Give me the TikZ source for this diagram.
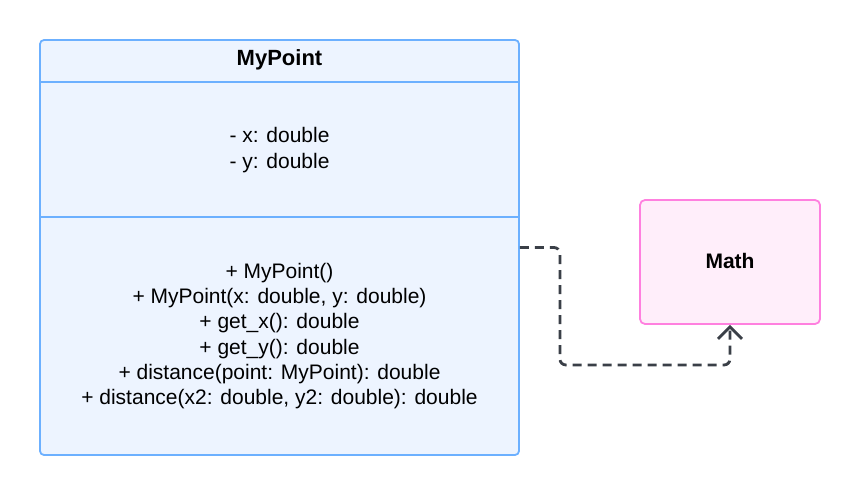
\documentclass[tikz,border=0pt]{standalone}
\usepackage{fontspec}
\setmainfont{Liberation Sans}
\usetikzlibrary{arrows.meta,calc}
\definecolor{clsfill}{HTML}{EDF4FF}
\definecolor{clsdraw}{HTML}{6CB0FF}
\definecolor{mathfill}{HTML}{FFEEFA}
\definecolor{mathdraw}{HTML}{FF80DF}
\definecolor{linecol}{HTML}{3A3F47}
\tikzset{
  classbox/.style={draw=clsdraw, fill=clsfill, line width=1.8pt, rounded corners=4pt, inner sep=0pt},
  mathbox/.style={draw=mathdraw, fill=mathfill, line width=1.8pt, rounded corners=5pt, inner sep=0pt, font=\fontsize{21}{24}\selectfont\bfseries},
  divider/.style={draw=clsdraw, line width=1.8pt},
  txt/.style={align=center, font=\fontsize{21}{25.3}\selectfont, inner sep=0pt},
  title/.style={font=\fontsize{22}{24}\selectfont\bfseries, inner sep=0pt},
  dep/.style={draw=linecol, line width=2.8pt, dash pattern=on 9pt off 6pt, rounded corners=6pt, -{Straight Barb[length=12pt,width=24pt,line width=2.8pt]}}
}
\begin{document}
\begin{tikzpicture}[x=1pt,y=-1pt]
\useasboundingbox (0,0) rectangle (860,495);
\node[classbox, minimum width=479pt, minimum height=415pt] (cls) at (279.5,247.5) {};
\draw[divider] (40,82) -- (519,82);
\draw[divider] (40,217) -- (519,217);
\node[title] (name) at (279.5,60) {MyPoint};
\node[txt] (attrs) at (279.5,150) {- x: double\\- y: double};
\node[txt] (meths) at (279.5,336) {+ MyPoint()\\+ MyPoint(x: double, y: double)\\+ get\_x(): double\\+ get\_y(): double\\+ distance(point: MyPoint): double\\+ distance(x2: double, y2: double): double};
\node[mathbox, minimum width=180pt, minimum height=124pt] (math) at (730,262) {\raisebox{3pt}{Math}};
\draw[dep] (cls.east) -- ++(40,0) coordinate (c1) -- (c1 |- 0,365) -| (math.south);
\end{tikzpicture}
\end{document}
